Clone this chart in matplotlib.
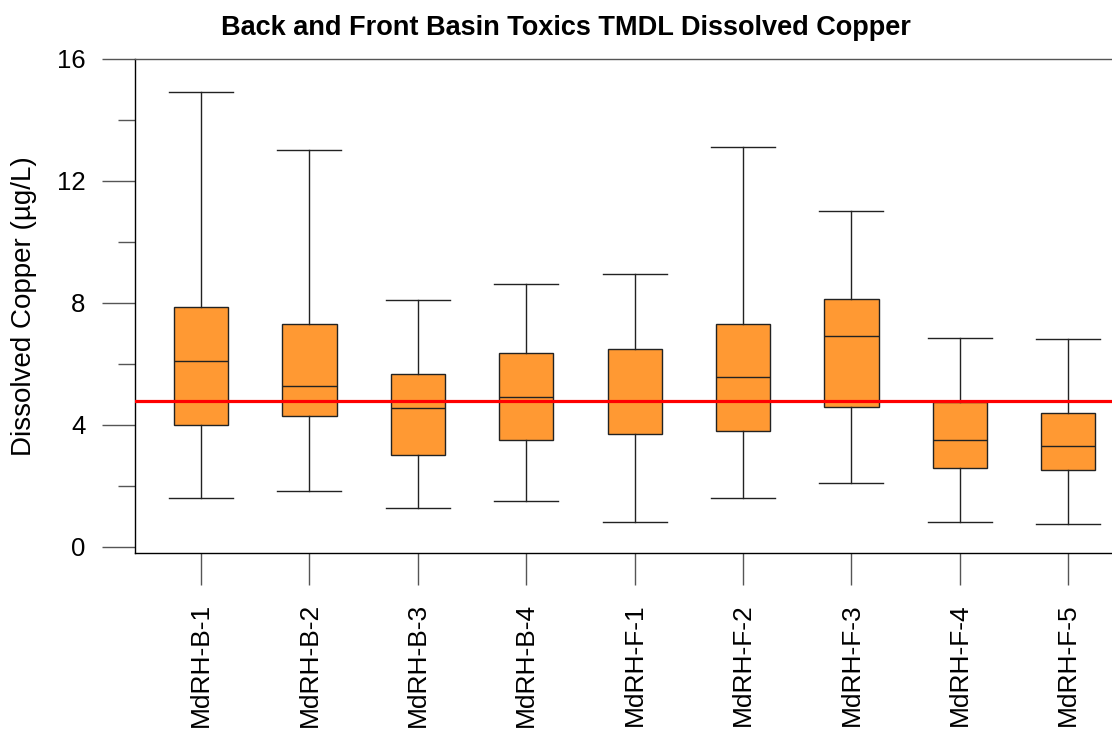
import matplotlib.pyplot as plt
from matplotlib.ticker import MultipleLocator

plt.rcParams['font.family'] = ['Liberation Sans', 'DejaVu Sans']

# station names and box statistics (ug/L)
stations = ["MdRH-B-1", "MdRH-B-2", "MdRH-B-3", "MdRH-B-4", "MdRH-F-1",
            "MdRH-F-2", "MdRH-F-3", "MdRH-F-4", "MdRH-F-5"]
whisk_lo = [1.60, 1.85, 1.27, 1.50, 0.81, 1.60, 2.10, 0.83, 0.76]
q1 = [4.00, 4.31, 3.00, 3.50, 3.70, 3.80, 4.60, 2.60, 2.51]
median = [6.11, 5.28, 4.57, 4.93, 4.80, 5.57, 6.92, 3.50, 3.30]
q3 = [7.86, 7.30, 5.66, 6.35, 6.50, 7.30, 8.12, 4.77, 4.39]
whisk_hi = [14.91, 13.02, 8.10, 8.61, 8.94, 13.10, 11.01, 6.85, 6.82]
target = 4.8

stats = []
for i in range(len(stations)):
    stats.append(dict(whislo=whisk_lo[i], q1=q1[i], med=median[i],
                      q3=q3[i], whishi=whisk_hi[i], fliers=[]))

fig = plt.figure(figsize=(11.12, 7.30), dpi=100)
ax = fig.add_axes([135/1112, 1 - 553/730, 1 - 135/1112, (553 - 59)/730])

pos = list(range(1, len(stations) + 1))
ax.bxp(stats, positions=pos, widths=0.5, capwidths=0.59, showfliers=False,
       patch_artist=True,
       boxprops=dict(facecolor='#FF9933', edgecolor='#222222', linewidth=1.0),
       medianprops=dict(color='#222222', linewidth=1.0),
       whiskerprops=dict(color='#222222', linewidth=1.0),
       capprops=dict(color='#222222', linewidth=1.0))

ax.axhline(target, color='#FF0000', linewidth=2.3, zorder=5)

ax.set_xlim(1 - 66/108.4, 1 + (1112 - 201)/108.4)
ax.set_ylim(-0.197, 16)
ax.yaxis.set_major_locator(MultipleLocator(4))
ax.yaxis.set_minor_locator(MultipleLocator(2))
ax.set_xticks(pos)
ax.set_xticklabels(stations, rotation=90, fontsize=19)
ax.tick_params(axis='y', which='major', length=23.8, width=1, color='#555555',
               labelsize=18.5, pad=12)
ax.tick_params(axis='y', which='minor', length=12.2, width=1, color='#555555')
ax.tick_params(axis='x', length=23, width=1, color='#555555', pad=13)

ax.spines['right'].set_visible(False)
for s in ['left', 'top', 'bottom']:
    ax.spines[s].set_linewidth(1.0)
ax.spines['top'].set_color('#555555')

ax.set_ylabel("Dissolved Copper (µg/L)", fontsize=20, labelpad=14)
fig.text(566/1112, 1 - 35/730, "Back and Front Basin Toxics TMDL Dissolved Copper",
         ha='center', va='baseline', fontsize=19.5, fontweight='bold')

plt.savefig("out.png", dpi=100)
